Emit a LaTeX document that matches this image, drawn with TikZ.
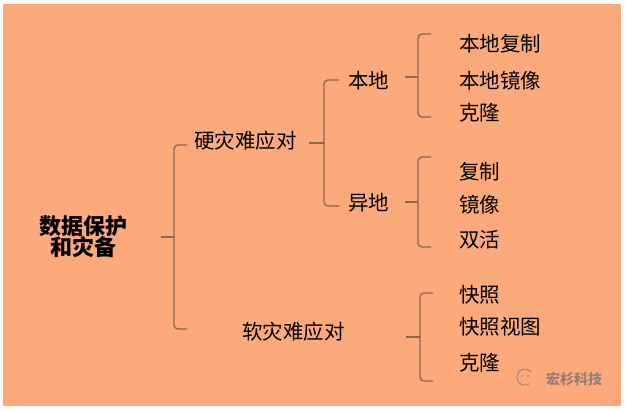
\documentclass[tikz,border=0pt]{standalone}
\usepackage{fontspec}
\newfontfamily\cjk{Noto Sans CJK SC}
\definecolor{bg}{RGB}{252,170,124}
\definecolor{brc}{RGB}{140,104,78}
\definecolor{wm}{RGB}{150,128,118}
\tikzset{
  lbl/.style={inner sep=0pt, anchor=west, font=\cjk\fontsize{20.5}{24}\selectfont, text=black},
  title/.style={inner sep=0pt, align=center, font=\cjk\bfseries\fontsize{22}{22}\selectfont, text=black},
  brace/.style={draw=brc, line width=1.4pt, rounded corners=4pt},
  tick/.style={draw=brc, line width=1.4pt},
}
\begin{document}
\begin{tikzpicture}[x=1pt,y=-1pt]
\useasboundingbox (0,0) rectangle (627,412);
\fill[white] (0,0) rectangle (627,412);
\fill[bg] (3,4) rectangle (621,406);

% title
\node[title] (root) at (83,237) {数据保护\\[-1pt]和灾备};

% level 1
\node[lbl] (hard) at (194,141) {硬灾难应对};
\node[lbl] (soft) at (242,332) {软灾难应对};

% level 2
\node[lbl] (local) at (348,81) {本地};
\node[lbl] (remote) at (348,203) {异地};

% leaves
\node[lbl] (l1) at (459,44) {本地复制};
\node[lbl] (l2) at (459,81) {本地镜像};
\node[lbl] (l3) at (459,113) {克隆};
\node[lbl] (r1) at (459,172) {复制};
\node[lbl] (r2) at (459,205) {镜像};
\node[lbl] (r3) at (459,240) {双活};
\node[lbl] (s1) at (459,295) {快照};
\node[lbl] (s2) at (459,327) {快照视图};
\node[lbl] (s3) at (459,363) {克隆};

% watermark
\node[inner sep=0pt, anchor=west, font=\cjk\bfseries\fontsize{14}{14}\selectfont, text=wm] (wmk) at (546,379) {宏杉科技};
\draw[wm, line width=0.8pt] (531,372) arc (40:300:8pt);
\fill[wm] (522,376) circle (1pt) (528,376) circle (1pt);

% main brace
\coordinate (b0t) at (174,145);
\coordinate (b0b) at (174,329);
\draw[brace] (187,145) -- (b0t) -- (b0b) -- (187,329);
\draw[tick] (161,237) -- (174,237);

% hard brace
\draw[brace] (339,80) -- (324,80) -- (324,206) -- (339,206);
\draw[tick] (309,143) -- (324,143);

% local brace
\draw[brace] (431,34) -- (418,34) -- (418,117) -- (431,117);
\draw[tick] (405,77) -- (418,77);

% remote brace
\draw[brace] (431,157) -- (418,157) -- (418,247) -- (431,247);
\draw[tick] (405,202) -- (418,202);

% soft brace
\draw[brace] (433,293) -- (420,293) -- (420,381) -- (433,381);
\draw[tick] (406,337) -- (420,337);
\end{tikzpicture}
\end{document}
